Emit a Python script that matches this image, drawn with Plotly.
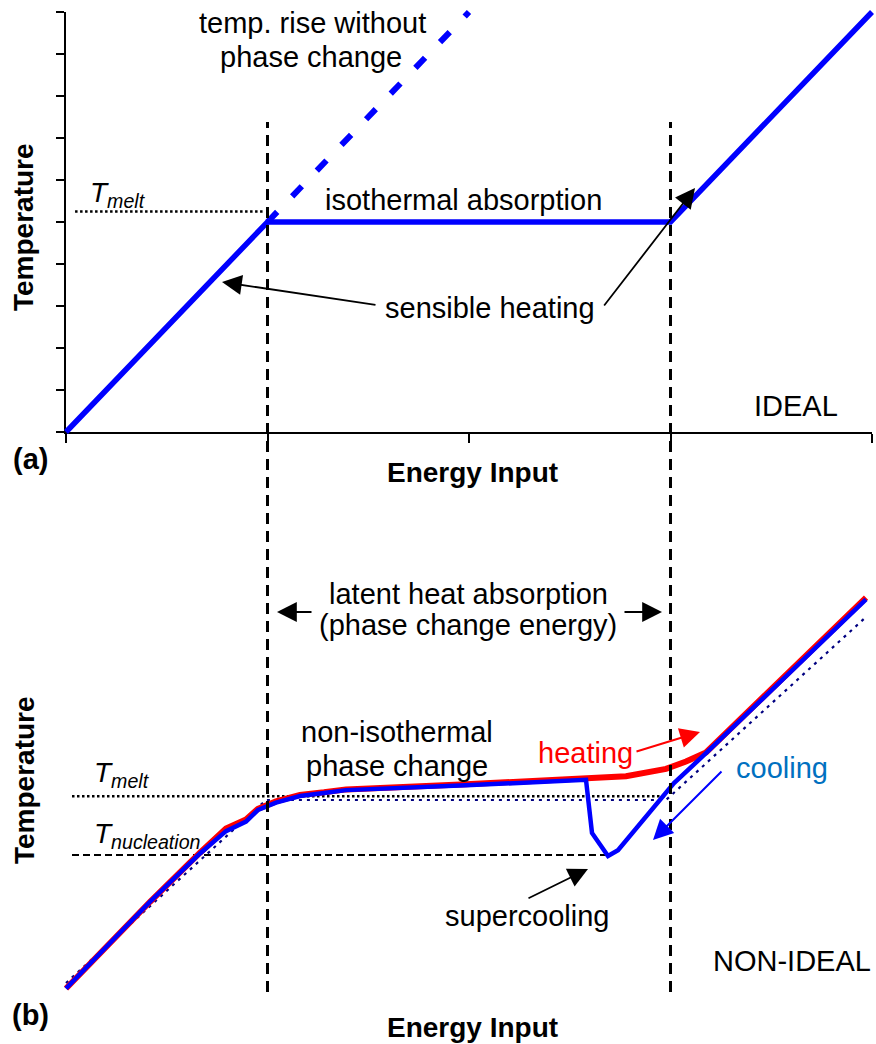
import plotly.graph_objects as go

W, H = 876, 1044
FONT = "Arial, Liberation Sans, sans-serif"

# ---------------- data ----------------
# panel (a) – ideal behaviour
ideal_x = [0, 1, 3, 4]
ideal_y = [0, 5, 5, 10]
no_pc_x = [1, 2]            # temperature rise without phase change
no_pc_y = [5, 10]
tmelt_a_x = [0.045, 0.98]
tmelt_a_y = [5.25, 5.25]

# panel (b) – non-ideal behaviour
heat_x = [0, 0.17, 0.42, 0.67, 0.80, 0.90, 0.96, 1.05, 1.17, 1.29, 1.40, 2.0, 2.6, 2.8, 3.0, 3.1, 3.2, 4.0]
heat_y = [-0.15, 0.81, 2.22, 3.56, 4.22, 4.47, 4.76, 4.96, 5.14, 5.21, 5.29, 5.43, 5.58, 5.65, 5.85, 6.05, 6.3, 10.53]
cool_x = [0, 0.17, 0.42, 0.67, 0.80, 0.90, 0.96, 1.05, 1.17, 1.29, 1.40, 2.0, 2.6, 2.63, 2.71, 2.76, 3.04, 3.2, 4.0]
cool_y = [-0.15, 0.81, 2.22, 3.54, 4.15, 4.41, 4.73, 4.93, 5.11, 5.19, 5.27, 5.4, 5.55, 4.1, 3.47, 3.63, 5.46, 6.28, 10.48]
ref_x = [0, 1, 3, 4]
ref_y = [0, 5, 5, 10]
tmelt_b_x = [0.03, 3.0]
tmelt_b_y = [5.1, 5.1]
tnuc_x = [0.03, 2.72]
tnuc_y = [3.5, 3.5]
phase_bounds = [1, 3]
x_ticks = [0, 1, 2, 3, 4]
y_ticks = list(range(11))

# ---------------- geometry helpers ----------------
def pxx(p):
    return p / W


def pxy(p):
    return 1 - p / H


def extend(d0, d1, r0, r1, lo, hi):
    k = (d1 - d0) / (r1 - r0)
    return [d0 - lo * k, d1 + hi * k], [r0 - lo, r1 + hi]


A_XD = [pxx(66), pxx(872)]
A_YD = [pxy(432), pxy(12)]
B_XD = [pxx(66), pxx(866)]
B_YD = [pxy(983), pxy(617)]

fig = go.Figure()

# panel (a) data (on hidden, extended axes x3/y3)
fig.add_trace(go.Scatter(x=tmelt_a_x, y=tmelt_a_y, mode="lines", xaxis="x3", yaxis="y3",
                         line=dict(color="black", width=2.5, dash="2.5px,2.5px")))
fig.add_trace(go.Scatter(x=no_pc_x, y=no_pc_y, mode="lines", xaxis="x3", yaxis="y3",
                         line=dict(color="#0000FF", width=6, dash="14px,21.6px")))
fig.add_trace(go.Scatter(x=ideal_x, y=ideal_y, mode="lines", xaxis="x3", yaxis="y3",
                         line=dict(color="#0000FF", width=5.5)))

# panel (b) data (on hidden, extended axes x4/y4)
fig.add_trace(go.Scatter(x=tmelt_b_x, y=tmelt_b_y, mode="lines", xaxis="x4", yaxis="y4",
                         line=dict(color="black", width=2.5, dash="2.5px,2.5px")))
fig.add_trace(go.Scatter(x=tnuc_x, y=tnuc_y, mode="lines", xaxis="x4", yaxis="y4",
                         line=dict(color="black", width=2, dash="7px,4px")))
fig.add_trace(go.Scatter(x=ref_x, y=ref_y, mode="lines", xaxis="x4", yaxis="y4",
                         line=dict(color="#000080", width=2.2, dash="3px,5px")))
fig.add_trace(go.Scatter(x=heat_x, y=heat_y, mode="lines", xaxis="x4", yaxis="y4",
                         line=dict(color="#FF0000", width=6)))
fig.add_trace(go.Scatter(x=cool_x, y=cool_y, mode="lines", xaxis="x4", yaxis="y4",
                         line=dict(color="#0000FF", width=4.5)))

axis_common = dict(showgrid=False, zeroline=False, showticklabels=False, ticks="outside",
                   ticklen=8, tickwidth=1.5, tickcolor="black", showline=True,
                   linecolor="black", linewidth=2, fixedrange=True)
hidden = dict(visible=False, showgrid=False, zeroline=False, fixedrange=True)

d3x, r3x = extend(A_XD[0], A_XD[1], 0, 4, 0.05, 0.015)
d3y, r3y = extend(A_YD[0], A_YD[1], 0, 10, 0.3, 0.25)
d4x, r4x = extend(B_XD[0], B_XD[1], 0, 4, 0.05, 0.02)
d4y, r4y = extend(B_YD[0], B_YD[1], 0, 10, 0.5, 1.0)

fig.update_layout(
    width=W, height=H, margin=dict(l=0, r=0, t=0, b=0),
    paper_bgcolor="white", plot_bgcolor="rgba(0,0,0,0)", showlegend=False,
    xaxis=dict(domain=A_XD, range=[0, 4], anchor="y", tickvals=x_ticks, ticklen=9, **{k: v for k, v in axis_common.items() if k != "ticklen"}),
    yaxis=dict(domain=A_YD, range=[0, 10], anchor="x", tickvals=y_ticks, **axis_common),
    xaxis2=dict(domain=B_XD, range=[0, 4], anchor="y2", tickvals=x_ticks, **axis_common),
    yaxis2=dict(domain=B_YD, range=[0, 10], anchor="x2", tickvals=y_ticks, **axis_common),
    xaxis3=dict(domain=d3x, range=r3x, anchor="y3", **hidden),
    yaxis3=dict(domain=d3y, range=r3y, anchor="x3", **hidden),
    xaxis4=dict(domain=d4x, range=r4x, anchor="y4", **hidden),
    yaxis4=dict(domain=d4y, range=r4y, anchor="x4", **hidden),
)

# vertical phase-change boundaries spanning both panels
for xb in phase_bounds:
    fig.add_shape(type="line", xref="x", yref="paper", x0=xb, x1=xb, y0=pxy(992), y1=pxy(122),
                  line=dict(color="black", width=3, dash="11px,7px"), layer="above")


def label(text, cx, cy, size=29, color="black", bold=False, angle=0):
    return dict(text=f"<b>{text}</b>" if bold else text, x=pxx(cx), y=pxy(cy), xref="paper",
                yref="paper", xanchor="center", yanchor="middle", showarrow=False,
                font=dict(family=FONT, size=size, color=color), textangle=angle)


def arrow(tail, tip, color="black", width=1.8, size=2.2):
    return dict(text="", x=pxx(tip[0]), y=pxy(tip[1]), xref="paper", yref="paper",
                ax=tail[0] - tip[0], ay=tail[1] - tip[1], showarrow=True, arrowhead=2,
                arrowsize=size, arrowwidth=width, arrowcolor=color, standoff=0, startstandoff=0)


annotations = [
    # panel (a)
    label("temp. rise without", 312, 23),
    label("phase change", 311, 57),
    label("isothermal absorption", 463, 200),
    label("sensible heating", 490, 308),
    label("<i>T<sub>melt</sub></i>", 118, 194, size=28),
    label("IDEAL", 796, 406),
    label("(a)", 30, 459, bold=True),
    label("Energy Input", 472, 472, size=28, bold=True),
    label("Temperature", 24, 227, size=28, bold=True, angle=-90),
    arrow((377, 305), (222, 282)),
    arrow((603, 307), (695, 188)),
    # panel (b)
    label("latent heat absorption", 468, 594),
    label("(phase change energy)", 468, 625),
    label("non-isothermal", 397, 732),
    label("phase change", 397, 766),
    label("heating", 585, 753, color="#FF0000"),
    label("cooling", 782, 768, color="#0070C0"),
    label("<i>T<sub>melt</sub></i>", 122, 774, size=28),
    label("<i>T<sub>nucleation</sub></i>", 147, 835, size=28),
    label("supercooling", 527, 916),
    label("NON-IDEAL", 792, 961),
    label("(b)", 30, 1015, bold=True),
    label("Energy Input", 472, 1027, size=28, bold=True),
    label("Temperature", 24, 780, size=28, bold=True, angle=-90),
    arrow((313, 612), (277, 612)),
    arrow((623, 612), (662, 612)),
    arrow((635, 752), (700, 732), color="#FF0000", width=2, size=2.0),
    arrow((723, 770), (653, 840), color="#0000FF", width=2, size=2.0),
    arrow((527, 899), (588, 869)),
]
fig.update_layout(annotations=annotations)

fig.write_html("out.html")
